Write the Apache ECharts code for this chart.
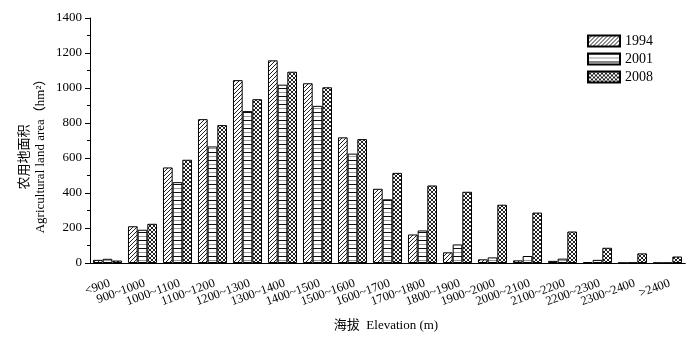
<!DOCTYPE html>
<html>
<head>
<meta charset="utf-8">
<script src="https://cdn.jsdelivr.net/npm/echarts@6/dist/echarts.min.js"></script>
<style>html,body{margin:0;padding:0;background:#fff}#c{width:700px;height:351px}</style>
</head>
<body>
<div id="c"></div>
<script>
const categories = ['<900','900~1000','1000~1100','1100~1200','1200~1300','1300~1400','1400~1500','1500~1600','1600~1700','1700~1800','1800~1900','1900~2000','2000~2100','2100~2200','2200~2300','2300~2400','>2400'];
const seriesNames = ['1994','2001','2008'];
const v1994 = [18, 210, 546, 822, 1045, 1158, 1027, 718, 424, 163, 61, 21, 15, 12, 5, 1, 1];
const v2001 = [24, 190, 462, 666, 868, 1019, 898, 625, 364, 186, 106, 32, 40, 25, 18, 2, 1];
const v2008 = [14, 224, 590, 788, 936, 1093, 1004, 708, 515, 443, 407, 333, 288, 180, 87, 55, 37];
const yTicks = [0, 200, 400, 600, 800, 1000, 1200, 1400];

function makePattern(kind) {
  const c = document.createElement('canvas');
  const s = kind === 'h' ? 8 : 4;
  c.width = s; c.height = s;
  const g = c.getContext('2d');
  g.fillStyle = '#fff'; g.fillRect(0, 0, s, s);
  if (kind === 'd') {
    g.fillStyle = '#222';
    for (let i = 0; i < s; i++) g.fillRect(i, s - 1 - i, 1, 1);
  } else if (kind === 'h') {
    g.fillStyle = '#111'; g.fillRect(0, 0, s, 1);
    g.fillStyle = '#999'; g.fillRect(0, 4, s, 1);
  } else {
    g.fillStyle = '#222';
    for (let i = 0; i < s; i++) { g.fillRect(i, i, 1, 1); g.fillRect(i, s - 1 - i, 1, 1); }
  }
  return { image: c, repeat: 'repeat' };
}
const patterns = [makePattern('d'), makePattern('h'), makePattern('x')];
const values = [v1994, v2001, v2008];
const serif = '"Liberation Serif", "Noto Sans CJK SC", serif';

const chart = echarts.init(document.getElementById('c'), null, { renderer: 'canvas' });
chart.setOption({
  animation: false,
  backgroundColor: '#fff',
  textStyle: { fontFamily: serif, color: '#000' },
  grid: { left: 90, right: 15, top: 18, bottom: 88, containLabel: false },
  legend: {
    orient: 'vertical', left: 587, top: 34, padding: 0,
    itemWidth: 32, itemHeight: 11, itemGap: 4,
    icon: 'rect',
    textStyle: { fontFamily: serif, fontSize: 14, color: '#000', lineHeight: 14 },
    data: seriesNames
  },
  xAxis: [{
    type: 'category', data: categories, position: 'bottom',
    axisLine: { lineStyle: { color: '#000', width: 1 } },
    axisTick: { alignWithLabel: false, length: 3, lineStyle: { color: '#000' } },
    axisLabel: { rotate: 20, fontSize: 12.5, fontFamily: serif, color: '#000', margin: 14, interval: 0, verticalAlign: 'top', align: 'right' },
    splitLine: { show: false }
  }, {
    type: 'category', data: categories, position: 'bottom', offset: 0,
    axisLine: { show: true, lineStyle: { color: '#000', width: 1 } },
    axisTick: { alignWithLabel: true, length: 5, lineStyle: { color: '#000' } },
    axisLabel: { show: false },
    splitLine: { show: false }
  }],
  yAxis: {
    type: 'value', min: yTicks[0], max: yTicks[yTicks.length - 1], interval: 200,
    axisLine: { show: true, lineStyle: { color: '#000', width: 1 } },
    axisTick: { show: true, length: 5, lineStyle: { color: '#000' } },
    minorTick: { show: true, splitNumber: 2, length: 3, lineStyle: { color: '#000' } },
    axisLabel: { fontSize: 13, fontFamily: serif, color: '#000', margin: 8, formatter: (v) => String(v) },
    splitLine: { show: false }
  },
  graphic: [
    { type: 'text', x: 23, y: 157, rotation: Math.PI / 2,
      style: { text: '农用地面积', font: '13px "Noto Sans CJK SC"', fill: '#000', align: 'center', verticalAlign: 'middle' } },
    { type: 'text', x: 41, y: 153, rotation: Math.PI / 2,
      style: { text: 'Agricultural land area（hm²）', font: '13px "Liberation Serif", "Noto Sans CJK SC"', fill: '#000', align: 'center', verticalAlign: 'middle' } },
    { type: 'text', x: 386, y: 326,
      style: { text: '海拔  Elevation (m)', font: '13px "Liberation Serif", "Noto Sans CJK SC"', fill: '#000', align: 'center', verticalAlign: 'middle' } }
  ],
  series: seriesNames.map((n, i) => ({
    name: n, type: 'bar', xAxisIndex: 0, data: values[i],
    barGap: '0%', barCategoryGap: '17%',
    itemStyle: { color: patterns[i], borderColor: '#000', borderWidth: 1 }
  }))
});
</script>
</body>
</html>
